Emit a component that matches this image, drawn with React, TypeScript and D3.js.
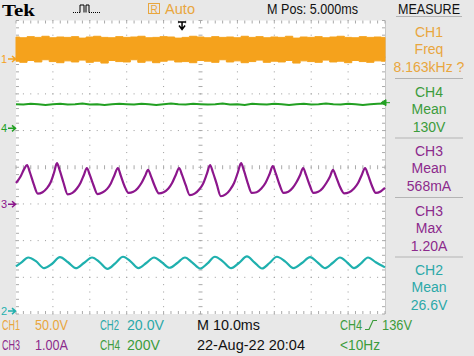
import React from "react";
import * as d3 from "d3";

const W = 474;
const H = 356;

// sample times (ms) for CH1 band and CH4 trace
const sampleTimes = [0,2,4,6,8,10,12,14,16,18,20,22,24,26,28,30,32,34,36,38,40,42,44,46,48,50,52,54,56,58,60,62,64,66,68,70,72,74,76,78,80,82,84,86,88,90,92,94,96,98,100];
// CH1 (orange) band edges, in screen divisions (0 = bottom, 8 = top)
const ch1Top = [7.55,7.53,7.56,7.54,7.57,7.53,7.55,7.54,7.56,7.52,7.55,7.57,7.54,7.53,7.56,7.54,7.55,7.57,7.53,7.54,7.56,7.55,7.52,7.54,7.57,7.55,7.53,7.56,7.54,7.55,7.53,7.57,7.54,7.56,7.53,7.55,7.54,7.57,7.52,7.55,7.54,7.56,7.53,7.55,7.57,7.54,7.53,7.56,7.54,7.55,7.54];
const ch1Bottom = [6.89,6.86,6.91,6.87,6.93,6.88,6.85,6.90,6.87,6.92,6.86,6.89,6.84,6.91,6.88,6.87,6.93,6.86,6.90,6.85,6.89,6.92,6.87,6.88,6.85,6.91,6.89,6.86,6.93,6.87,6.90,6.85,6.88,6.92,6.86,6.89,6.87,6.91,6.84,6.90,6.88,6.86,6.92,6.87,6.89,6.85,6.91,6.88,6.86,6.90,6.89];
// CH4 (green)
const ch4Level = [5.72,5.71,5.73,5.72,5.70,5.72,5.73,5.71,5.72,5.74,5.71,5.72,5.70,5.72,5.73,5.72,5.71,5.73,5.72,5.70,5.72,5.74,5.72,5.71,5.73,5.72,5.71,5.72,5.74,5.71,5.72,5.70,5.73,5.72,5.71,5.73,5.72,5.70,5.72,5.73,5.71,5.72,5.74,5.72,5.71,5.73,5.72,5.70,5.72,5.73,5.74];
// CH3 (purple) current waveform vertices
const ch3Time = [0,1.2,2.2,3.0,3.8,4.8,5.9,7.2,8.4,9.4,10.3,11.1,11.9,12.9,14.0,15.3,16.5,17.5,18.4,19.2,20.0,21.0,22.1,23.4,24.7,25.7,26.7,27.6,28.4,29.4,30.5,31.8,33.0,34.0,35.0,35.8,36.6,37.6,38.7,40.0,41.3,42.3,43.3,44.2,45.0,46.0,47.1,48.4,49.7,50.7,51.7,52.6,53.4,54.4,55.5,56.8,58.1,59.1,60.1,61.0,61.8,62.8,63.9,65.2,66.5,67.6,68.7,69.6,70.4,71.4,72.5,73.8,75.0,76.0,77.0,77.8,78.6,79.6,80.6,81.9,83.1,84.1,85.1,85.9,86.7,87.7,88.9,90.3,91.6,92.7,93.7,94.6,95.4,96.4,97.5,98.8,100];
const ch3Level = [3.57,3.74,3.95,4.06,3.85,3.54,3.28,3.32,3.43,3.59,3.85,4.11,3.90,3.57,3.26,3.30,3.42,3.58,3.79,3.98,3.79,3.51,3.27,3.31,3.41,3.56,3.79,3.98,3.77,3.49,3.30,3.33,3.43,3.57,3.77,3.93,3.75,3.49,3.29,3.32,3.42,3.57,3.79,3.98,3.79,3.51,3.24,3.28,3.40,3.55,3.81,4.06,3.85,3.54,3.21,3.26,3.40,3.57,3.85,4.11,3.90,3.57,3.30,3.32,3.42,3.57,3.81,4.03,3.83,3.53,3.30,3.33,3.44,3.59,3.79,3.98,3.79,3.51,3.30,3.33,3.43,3.57,3.75,3.93,3.75,3.49,3.29,3.32,3.42,3.57,3.79,3.98,3.79,3.51,3.30,3.34,3.44];
// CH2 (cyan) voltage waveform vertices
const ch2Time = [0,1.5,3.3,5.4,7.6,9.8,11.9,14.1,16.2,18.4,20.6,22.7,24.8,26.9,29.0,31.1,33.2,35.3,37.4,39.5,41.6,43.7,45.8,47.8,49.9,51.9,53.9,56.1,58.3,60.4,62.6,64.6,66.7,68.7,70.7,73.0,75.2,77.5,79.7,81.7,83.8,85.8,87.8,89.7,91.6,93.5,95.4,97.5,100];
const ch2Level = [1.30,1.41,1.54,1.44,1.25,1.37,1.55,1.41,1.25,1.39,1.54,1.41,1.23,1.38,1.56,1.43,1.25,1.39,1.54,1.41,1.26,1.39,1.54,1.40,1.24,1.38,1.56,1.43,1.25,1.39,1.57,1.41,1.24,1.39,1.56,1.43,1.25,1.39,1.55,1.41,1.25,1.39,1.54,1.41,1.25,1.38,1.54,1.41,1.27];

// channel ground markers (divisions)
const markerLabels = ["1", "4", "3", "2"];
const markerLevels = [6.95, 5.06, 2.99, 0.08];
const triggerLevel = 5.76;
const triggerTime = 45.0;

// measure panel
const measureChannels = ["CH1", "CH4", "CH3", "CH3", "CH2"];
const measureNames = ["Freq", "Mean", "Mean", "Max", "Mean"];
const measureValues = ["8.163kHz ?", "130V", "568mA", "1.20A", "26.6V"];

const ORANGE = "#f5a21c";
const ORANGE_T = "#e9a63e";
const GREEN = "#22a022";
const GREEN_T = "#3c9c3c";
const PURPLE = "#8c168c";
const PURPLE_T = "#8c2a8c";
const CYAN = "#1fb0ae";
const CYAN_T = "#2ca8a8";
const chColor: Record<string, string> = { CH1: ORANGE_T, CH2: CYAN_T, CH3: PURPLE_T, CH4: GREEN_T };
const markerColors = [ORANGE, GREEN, PURPLE, CYAN];

const FONT = "'Liberation Sans Narrow','Liberation Sans',Arial,sans-serif";
const BG = "#e8e8e8";

export default function App() {
  const x = d3.scaleLinear().domain([0, 100]).range([16, 385]);
  const y = d3.scaleLinear().domain([0, 8]).range([314, 20.5]);

  const band = d3
    .area<number>()
    .x((_, i) => x(sampleTimes[i]))
    .y0((_, i) => y(ch1Bottom[i]))
    .y1((_, i) => y(ch1Top[i]))
    .curve(d3.curveStep);
  const ch4Line = d3.line<number>().x((_, i) => x(sampleTimes[i])).y((d) => y(d));
  const ch3Line = d3.line<number>().x((_, i) => x(ch3Time[i])).y((d) => y(d)).curve(d3.curveMonotoneX);
  const ch2Line = d3.line<number>().x((_, i) => x(ch2Time[i])).y((d) => y(d)).curve(d3.curveMonotoneX);

  const minorT = d3.range(0, 100.001, 2);
  const minorV = d3.range(0, 8.001, 0.2);
  const majorT = d3.range(10, 100, 10);
  const majorV = d3.range(1, 8, 1);

  const dots: JSX.Element[] = [];
  majorT.forEach((t) => {
    if (t === 50) return;
    minorV.forEach((v, k) =>
      dots.push(<rect key={`vt${t}-${k}`} x={x(t) - 0.5} y={y(v) - 0.5} width={1} height={1} fill="#9a9a9a" />)
    );
  });
  majorV.forEach((v) => {
    if (v === 4) return;
    minorT.forEach((t, k) =>
      dots.push(<rect key={`hv${v}-${k}`} x={x(t) - 0.5} y={y(v) - 0.5} width={1} height={1} fill="#9a9a9a" />)
    );
  });
  // center crosshair ticks
  minorV.forEach((v, k) =>
    dots.push(<line key={`cv${k}`} x1={x(50) - 2} x2={x(50) + 2} y1={y(v)} y2={y(v)} stroke="#aaa" strokeWidth={1} />)
  );
  minorT.forEach((t, k) =>
    dots.push(<line key={`ch${k}`} x1={x(t)} x2={x(t)} y1={y(4) - 2} y2={y(4) + 2} stroke="#aaa" strokeWidth={1} />)
  );
  // edge ticks
  minorT.forEach((t, k) => {
    dots.push(<line key={`et${k}`} x1={x(t)} x2={x(t)} y1={y(8)} y2={y(8) + 3} stroke="#aaa" />);
    dots.push(<line key={`eb${k}`} x1={x(t)} x2={x(t)} y1={y(0)} y2={y(0) - 3} stroke="#aaa" />);
  });
  minorV.forEach((v, k) => {
    dots.push(<line key={`el${k}`} x1={x(0)} x2={x(0) + 3} y1={y(v)} y2={y(v)} stroke="#aaa" />);
    dots.push(<line key={`er${k}`} x1={x(100)} x2={x(100) - 3} y1={y(v)} y2={y(v)} stroke="#aaa" />);
  });

  const panelX = 429;
  const blockTop = 20;
  const blockH = 59.5;
  const tx = x(triggerTime);
  const ty = y(triggerLevel);

  return (
    <div style={{ position: "fixed", left: 0, top: 0 }}>
      <svg width={W} height={H} style={{ display: "block" }}>
        <rect x={0} y={0} width={W} height={H} fill={BG} />
        <rect x={x(0)} y={y(8)} width={x(100) - x(0)} height={y(0) - y(8)} fill="#ffffff" />
        <line x1={x(100) + 0.5} x2={x(100) + 0.5} y1={y(8)} y2={y(0)} stroke="#c8c8c8" />
        {dots}

        {/* traces */}
        <path d={band(ch1Top) || ""} fill={ORANGE} stroke={ORANGE} strokeWidth={1} />
        <path d={ch4Line(ch4Level) || ""} fill="none" stroke={GREEN} strokeWidth={2} />
        <path d={ch3Line(ch3Level) || ""} fill="none" stroke={PURPLE} strokeWidth={2.2} strokeLinejoin="round" />
        <path d={ch2Line(ch2Level) || ""} fill="none" stroke={CYAN} strokeWidth={2.2} strokeLinejoin="round" />

        {/* trigger position arrow */}
        <path
          d={`M${tx - 4},${y(8) + 1.5} L${tx + 4},${y(8) + 1.5} M${tx},${y(8) + 1} L${tx},${y(8) + 8} M${tx - 3},${y(8) + 5} L${tx},${y(8) + 9} L${tx + 3},${y(8) + 5}`}
          stroke="#000"
          strokeWidth={1.5}
          fill="none"
        />
        {/* trigger level arrow */}
        <path
          d={`M${x(100) - 4},${ty} L${x(100) + 1},${ty - 3} L${x(100) + 1},${ty + 3} Z M${x(100)},${ty} L${x(100) + 5},${ty}`}
          fill={GREEN}
          stroke={GREEN}
          strokeWidth={1}
        />

        {/* channel markers */}
        {markerLabels.map((lab, i) => (
          <g key={lab}>
            <text x={1} y={y(markerLevels[i]) + 4} fontFamily={FONT} fontSize={11} fill={markerColors[i]}>
              {lab}
            </text>
            <path
              d={`M${8},${y(markerLevels[i])} L${15},${y(markerLevels[i])} M${12},${y(markerLevels[i]) - 3} L${15.5},${y(markerLevels[i])} L${12},${y(markerLevels[i]) + 3}`}
              stroke={markerColors[i]}
              strokeWidth={1.5}
              fill="none"
            />
          </g>
        ))}

        {/* header */}
        <text x={2} y={16} fontFamily="'Liberation Serif','DejaVu Serif',serif" fontWeight="bold" fontSize={17} fill="#000" textLength={33} lengthAdjust="spacingAndGlyphs">
          Tek
        </text>
        <path d="M73,12.5 L80,12.5" stroke="#000" strokeDasharray="1 1" />
        <path d="M80,12.5 L80,5 L84,5 L84,12.5 M86,12.5 L86,5 L89,5 L89,12.5" stroke="#000" strokeWidth={1} fill="none" />
        <path d="M89,12.5 L101,12.5" stroke="#000" strokeDasharray="1 1" />
        <rect x={148.5} y={3.5} width={11} height={10} fill="none" stroke={ORANGE_T} strokeWidth={1} />
        <text x={154} y={12.5} textAnchor="middle" fontFamily={FONT} fontSize={10} fill={ORANGE_T}>
          R
        </text>
        <text x={165} y={13.5} fontFamily={FONT} fontSize={14} fill={ORANGE_T} textLength={30} lengthAdjust="spacingAndGlyphs">
          Auto
        </text>
        <text x={267} y={13.5} fontFamily={FONT} fontSize={14} fill="#111" textLength={91} lengthAdjust="spacingAndGlyphs">
          M Pos: 5.000ms
        </text>
        <text x={398} y={13.5} fontFamily={FONT} fontSize={14} fill="#111" textLength={62} lengthAdjust="spacingAndGlyphs">
          MEASURE
        </text>
        <line x1={396} x2={462} y1={16.5} y2={16.5} stroke="#b4b4b4" />

        {/* measure panel */}
        {measureChannels.map((ch, i) => {
          const top = blockTop + i * blockH;
          const c = chColor[ch];
          return (
            <g key={i}>
              <text x={panelX} y={top + 17} textAnchor="middle" fontFamily={FONT} fontSize={14} fill={c}>
                {ch}
              </text>
              <text x={panelX} y={top + 34} textAnchor="middle" fontFamily={FONT} fontSize={14} fill={c}>
                {measureNames[i]}
              </text>
              <text x={panelX} y={top + 52} textAnchor="middle" fontFamily={FONT} fontSize={14} fill={c}>
                {measureValues[i]}
              </text>
              {i < measureChannels.length - 1 && (
                <line x1={395} x2={463} y1={top + 58.5} y2={top + 58.5} stroke="#b4b4b4" />
              )}
            </g>
          );
        })}

        {/* footer */}
        <g fontFamily={FONT} fontSize={14}>
          <text x={2} y={330} fill={ORANGE_T} textLength={18} lengthAdjust="spacingAndGlyphs">CH1</text>
          <text x={35} y={330} fill={ORANGE_T} textLength={33} lengthAdjust="spacingAndGlyphs">50.0V</text>
          <text x={100} y={330} fill={CYAN_T} textLength={19} lengthAdjust="spacingAndGlyphs">CH2</text>
          <text x={127} y={330} fill={CYAN_T} textLength={37} lengthAdjust="spacingAndGlyphs">20.0V</text>
          <text x={197} y={330} fill="#111" textLength={63} lengthAdjust="spacingAndGlyphs">M 10.0ms</text>
          <text x={340} y={330} fill={GREEN_T} textLength={22} lengthAdjust="spacingAndGlyphs">CH4</text>
          <path d="M365,329.5 L369,329.5 L373,320.5 L377,320.5" stroke={GREEN_T} strokeWidth={1.2} fill="none" />
          <text x={382} y={330} fill={GREEN_T} textLength={30} lengthAdjust="spacingAndGlyphs">136V</text>

          <text x={2} y={350} fill={PURPLE_T} textLength={18} lengthAdjust="spacingAndGlyphs">CH3</text>
          <text x={35} y={350} fill={PURPLE_T} textLength={33} lengthAdjust="spacingAndGlyphs">1.00A</text>
          <text x={100} y={350} fill={GREEN_T} textLength={20} lengthAdjust="spacingAndGlyphs">CH4</text>
          <text x={127} y={350} fill={GREEN_T} textLength={33} lengthAdjust="spacingAndGlyphs">200V</text>
          <text x={197} y={350} fill="#111" textLength={108} lengthAdjust="spacingAndGlyphs">22-Aug-22 20:04</text>
          <text x={340} y={350} fill={GREEN_T} textLength={40} lengthAdjust="spacingAndGlyphs">&lt;10Hz</text>
        </g>
      </svg>
    </div>
  );
}
